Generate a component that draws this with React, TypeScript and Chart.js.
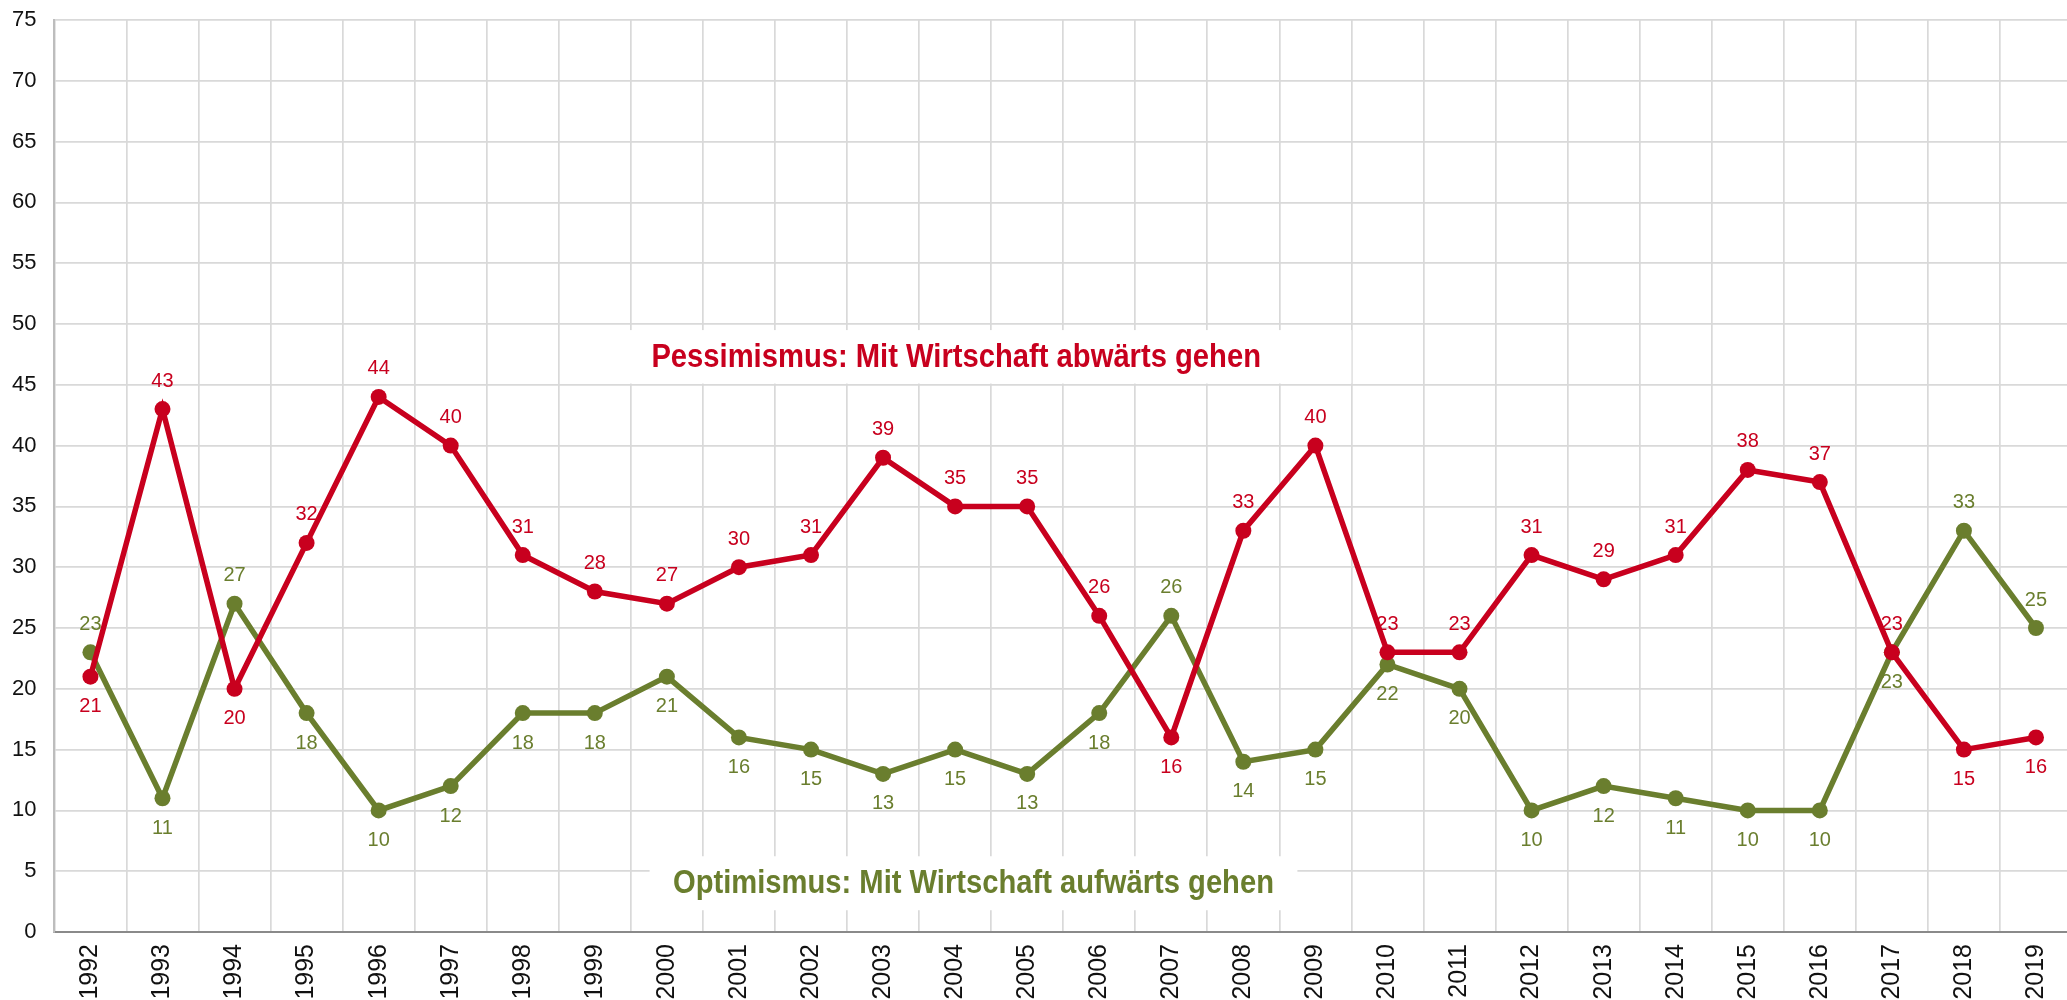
import React, { useEffect, useRef } from "react";
import { Chart, registerables } from "chart.js";

Chart.register(...registerables);

const years = ["1992","1993","1994","1995","1996","1997","1998","1999","2000","2001","2002","2003","2004","2005","2006","2007","2008","2009","2010","2011","2012","2013","2014","2015","2016","2017","2018","2019"];
const pessimismus = [21,43,20,32,44,40,31,28,27,30,31,39,35,35,26,16,33,40,23,23,31,29,31,38,37,23,15,16];
const optimismus = [23,11,27,18,10,12,18,18,21,16,15,13,15,13,18,26,14,15,22,20,10,12,11,10,10,23,33,25];
const yTicks = [0,5,10,15,20,25,30,35,40,45,50,55,60,65,70,75];

const RED = "#C8001E";
const GREEN = "#6A7E2E";
const FONT = "'Liberation Sans', Arial, sans-serif";

const seriesTitles = [
  { text: "Pessimismus: Mit Wirtschaft abwärts gehen", color: RED, x0: 6.53, x1: 17.5, y0: 49.5, y1: 45.1, textSpan: 8.46 },
  { text: "Optimismus: Mit Wirtschaft aufwärts gehen", color: GREEN, x0: 7.76, x1: 16.75, y0: 6.23, y1: 1.79, textSpan: 8.34 },
];

const titleBoxPlugin = {
  id: "titleBoxes",
  beforeDatasetsDraw(chart: any) {
    const ctx = chart.ctx;
    const xs = chart.scales.x;
    const ys = chart.scales.y;
    const catW = xs.getPixelForValue(1) - xs.getPixelForValue(0);
    seriesTitles.forEach((t) => {
      const l = xs.getPixelForValue(t.x0);
      const r = xs.getPixelForValue(t.x1);
      const top = ys.getPixelForValue(t.y0);
      const bot = ys.getPixelForValue(t.y1);
      ctx.save();
      ctx.fillStyle = "#ffffff";
      ctx.fillRect(l, top, r - l, bot - top);
      ctx.font = `bold 33px ${FONT}`;
      const w = ctx.measureText(t.text).width;
      const target = t.textSpan * catW;
      const sx = target / w;
      const cx = (l + r) / 2;
      const cy = (top + bot) / 2;
      ctx.translate(cx, cy);
      ctx.scale(sx, 1);
      ctx.fillStyle = t.color;
      ctx.textAlign = "center";
      ctx.textBaseline = "middle";
      ctx.fillText(t.text, 0, 1);
      ctx.restore();
    });
  },
};

const pointLabelPlugin = {
  id: "pointLabels",
  afterDatasetsDraw(chart: any) {
    const ctx = chart.ctx;
    const dsets = chart.data.datasets;
    ctx.save();
    ctx.font = `20px ${FONT}`;
    ctx.textAlign = "center";
    ctx.textBaseline = "middle";
    dsets.forEach((ds: any, di: number) => {
      const meta = chart.getDatasetMeta(di);
      const other = dsets[1 - di].data;
      meta.data.forEach((pt: any, i: number) => {
        const v = ds.data[i];
        const o = other[i];
        const above = di === 0 ? v >= o : v > o;
        ctx.fillStyle = ds.borderColor;
        ctx.fillText(String(v), pt.x, pt.y + (above ? -28 : 30));
      });
    });
    ctx.restore();
  },
};

export default function App() {
  const ref = useRef<HTMLCanvasElement>(null);
  useEffect(() => {
    if (!ref.current) return;
    const chart = new Chart(ref.current, {
      type: "line",
      data: {
        labels: years,
        datasets: [
          {
            label: "Pessimismus",
            data: pessimismus,
            borderColor: RED,
            backgroundColor: RED,
            borderWidth: 5.5,
            pointRadius: 8,
            pointBorderWidth: 0,
            pointBackgroundColor: RED,
            tension: 0,
          },
          {
            label: "Optimismus",
            data: optimismus,
            borderColor: GREEN,
            backgroundColor: GREEN,
            borderWidth: 5.5,
            pointRadius: 8,
            pointBorderWidth: 0,
            pointBackgroundColor: GREEN,
            tension: 0,
          },
        ],
      },
      options: {
        animation: false,
        responsive: false,
        maintainAspectRatio: false,
        layout: { padding: { left: 0, top: 20, right: 0, bottom: 0 } },
        plugins: {
          legend: { display: false },
          tooltip: { enabled: false },
        },
        scales: {
          x: {
            type: "category",
            offset: true,
            grid: { offset: true, color: "#d9d9d9", lineWidth: 1.7, drawTicks: false },
            border: { color: "#8a8a8a", width: 2 },
            ticks: {
              color: "#111",
              font: { family: FONT, size: 25 },
              padding: 12,
              minRotation: 90,
              maxRotation: 90,
              autoSkip: false,
            },
            afterFit: (s: any) => {
              s.height = 68;
              s.paddingLeft = 0;
              s.paddingRight = 0;
            },
          },
          y: {
            min: 0,
            max: 75,
            afterBuildTicks: (s: any) => { s.ticks = yTicks.map((v) => ({ value: v })); },
            grid: { color: "#d9d9d9", lineWidth: 1.7, drawTicks: false },
            border: { color: "#bdbdbd", width: 2 },
            ticks: {
              color: "#111",
              font: { family: FONT, size: 22 },
              padding: 18,
            },
            afterFit: (s: any) => {
              s.width = 54.4;
              s.paddingTop = 0;
              s.paddingBottom = 0;
            },
          },
        },
      },
      plugins: [titleBoxPlugin, pointLabelPlugin],
    });
    return () => chart.destroy();
  }, []);
  return (
    <div style={{ position: "fixed", left: 0, top: 0, width: 2067, height: 1000, overflow: "hidden", background: "#fff" }}>
      <canvas ref={ref} width={2080} height={1000} style={{ display: "block", width: 2080, height: 1000 }} />
    </div>
  );
}
